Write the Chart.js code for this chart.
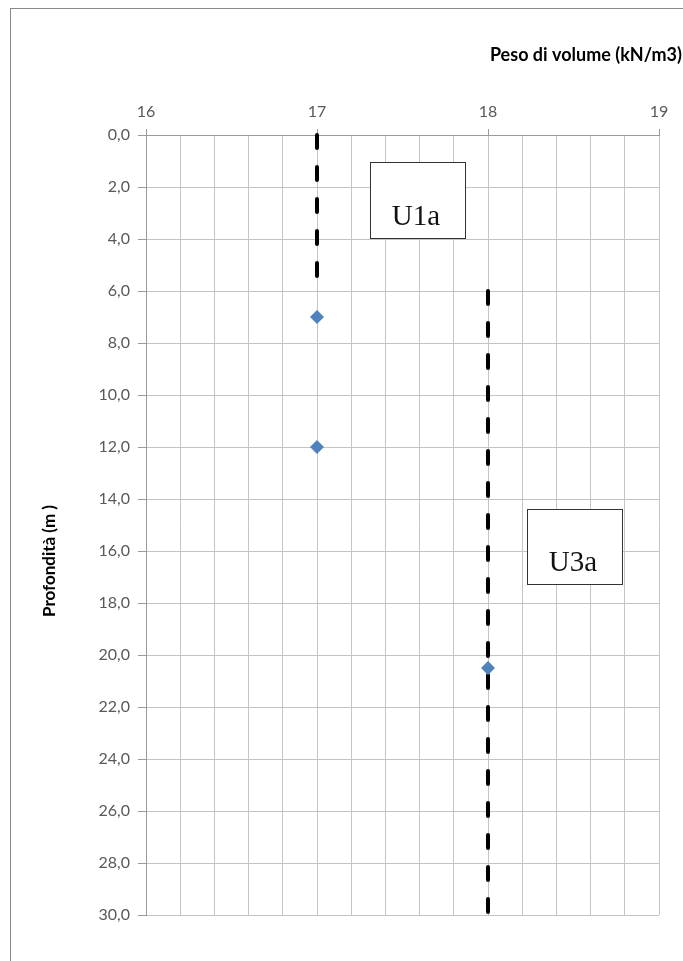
<!DOCTYPE html>
<html>
<head>
<meta charset="utf-8">
<title>Peso di volume</title>
<script src="https://cdn.jsdelivr.net/npm/chart.js@4/dist/chart.umd.min.js"></script>
<style>
  html, body { margin: 0; padding: 0; background: #fff; }
  canvas { display: block; }
</style>
</head>
<body>
<canvas id="c" width="683" height="961"></canvas>
<script>
// Measured unit weights (kN/m3) at sample depths (m)
const sampleWeights = [17, 17, 18];
const sampleDepths = [7, 12, 20.5];

// Design layers: name, unit weight, top and bottom depth (m)
const layerNames = ['U1a', 'U3a'];
const layerWeights = [17, 18];
const layerTops = [0, 6];
const layerBottoms = [6, 30];

// Axis ranges
const weightMin = 16, weightMax = 19, weightStep = 0.2;
const depthMin = 0, depthMax = 30, depthStep = 2;

const xTitle = 'Peso di volume (kN/m3)';
const yTitle = 'Profondità (m )';

// Label boxes placed in data coordinates (weight range, depth range)
const labelBoxes = [
  { x0: 17.31, x1: 17.865, y0: 1.04, y1: 3.96 },
  { x0: 18.228, x1: 18.784, y0: 14.38, y1: 17.27 }
];

const gridColor = '#c4c4c4';
const axisColor = '#9a9a9a';
const labelColor = '#595959';
const tickFont = { family: 'Lato', size: 16 };

const isInt = v => Math.abs(v - Math.round(v)) < 1e-6;

const samples = sampleWeights.map((w, i) => ({ x: w, y: sampleDepths[i] }));

const layerSets = layerNames.map((name, i) => ({
  label: name,
  type: 'line',
  data: [{ x: layerWeights[i], y: layerTops[i] }, { x: layerWeights[i], y: layerBottoms[i] }],
  showLine: true,
  borderColor: '#000',
  borderWidth: 4,
  borderDash: [13, 19],
  borderCapStyle: 'round',
  pointRadius: 0,
  fill: false,
  clip: false
}));

const decorations = {
  id: 'decorations',
  beforeDraw(chart) {
    const ctx = chart.ctx;
    ctx.save();
    ctx.fillStyle = '#fff';
    ctx.fillRect(0, 0, chart.width, chart.height);
    ctx.strokeStyle = '#8a8a8a';
    ctx.lineWidth = 1;
    ctx.strokeRect(10.5, 8.5, chart.width + 20, chart.height + 20);
    ctx.restore();
  },
  afterDraw(chart) {
    const ctx = chart.ctx;
    const xs = chart.scales.x, ys = chart.scales.y;
    ctx.save();
    // layer name boxes
    labelBoxes.forEach((b, i) => {
      const l = Math.round(xs.getPixelForValue(b.x0)) + 0.5;
      const r = Math.round(xs.getPixelForValue(b.x1)) + 0.5;
      const t = Math.round(ys.getPixelForValue(b.y0)) + 0.5;
      const bt = Math.round(ys.getPixelForValue(b.y1)) + 0.5;
      ctx.fillStyle = '#fff';
      ctx.fillRect(l, t, r - l, bt - t);
      ctx.strokeStyle = '#333';
      ctx.lineWidth = 1;
      ctx.strokeRect(l, t, r - l, bt - t);
      ctx.fillStyle = '#111';
      ctx.font = '29px "Liberation Serif", "Times New Roman", serif';
      ctx.textAlign = 'center';
      ctx.textBaseline = 'alphabetic';
      ctx.fillText(layerNames[i], (l + r) / 2 - 2, bt - 14);
    });
    // axis titles
    ctx.fillStyle = '#000';
    ctx.font = 'bold 18px Lato, "Open Sans", sans-serif';
    ctx.textAlign = 'right';
    ctx.textBaseline = 'middle';
    ctx.fillText(xTitle, 682, 55);
    ctx.translate(50, 561);
    ctx.rotate(-Math.PI / 2);
    ctx.font = 'bold 17px Lato, "Open Sans", sans-serif';
    ctx.textAlign = 'center';
    ctx.fillText(yTitle, 0, 0);
    ctx.restore();
  }
};

new Chart(document.getElementById('c'), {
  type: 'scatter',
  data: {
    datasets: [
      {
        label: 'Campioni',
        data: samples,
        pointStyle: 'rectRot',
        pointRadius: 7,
        pointHoverRadius: 7,
        backgroundColor: '#4f81bd',
        borderColor: '#4f81bd',
        borderWidth: 0
      },
      ...layerSets
    ]
  },
  options: {
    responsive: false,
    animation: false,
    events: [],
    layout: { padding: { left: 0, top: 0, right: 24, bottom: 46 } },
    plugins: { legend: { display: false }, tooltip: { enabled: false } },
    scales: {
      x: {
        type: 'linear',
        position: 'top',
        min: weightMin,
        max: weightMax,
        afterFit(scale) { scale.height = 135; },
        ticks: {
          stepSize: weightStep,
          autoSkip: false,
          maxRotation: 0,
          padding: 8,
          color: labelColor,
          font: tickFont,
          callback: v => isInt(v) ? String(Math.round(v)) : ''
        },
        grid: {
          color: gridColor,
          lineWidth: 1,
          tickLength: 6,
          tickColor: ctx => (ctx.tick && isInt(ctx.tick.value)) ? axisColor : 'rgba(0,0,0,0)'
        },
        border: { display: true, color: axisColor }
      },
      y: {
        type: 'linear',
        reverse: true,
        min: depthMin,
        max: depthMax,
        afterFit(scale) { scale.width = 146; },
        ticks: {
          stepSize: depthStep,
          autoSkip: false,
          padding: 8,
          color: labelColor,
          font: tickFont,
          callback: v => Number(v).toFixed(1).replace('.', ',')
        },
        grid: {
          color: gridColor,
          lineWidth: 1,
          tickLength: 8,
          tickColor: axisColor
        },
        border: { display: true, color: axisColor }
      }
    }
  },
  plugins: [decorations]
});
</script>
</body>
</html>
